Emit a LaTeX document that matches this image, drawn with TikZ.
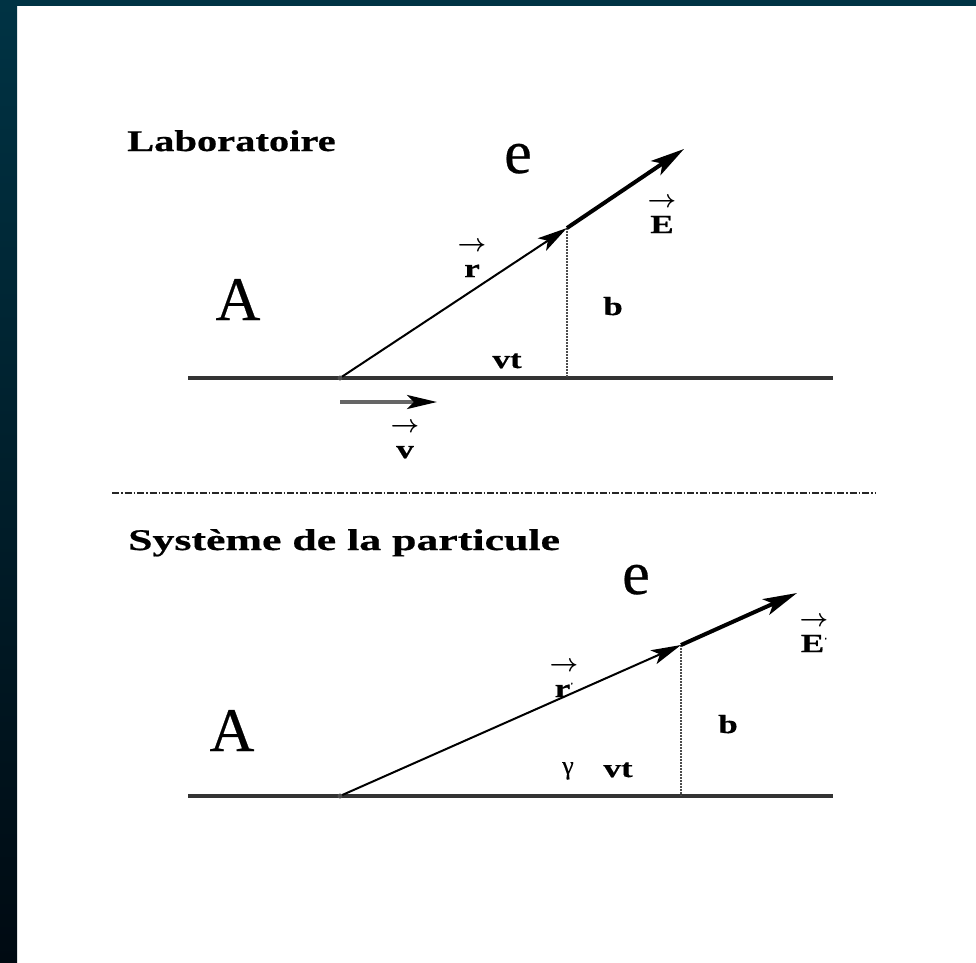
\documentclass[tikz,border=0pt]{standalone}
\usepackage{fontspec}
\usepackage{amsmath}
\setmainfont{Liberation Serif}
\newfontfamily\lbl[FakeStretch=1.35,FakeBold=0.6]{Liberation Serif}
\newfontfamily\lblw[FakeStretch=1.46,FakeBold=0.6]{Liberation Serif}
\newfontfamily\bigf[FakeBold=0.4]{Liberation Serif}
\usetikzlibrary{arrows.meta}
\definecolor{bgdark}{HTML}{003344}
\definecolor{bgblack}{HTML}{000A12}
\definecolor{axis}{HTML}{333333}
\newcommand{\vlab}[1]{$\overset{\textstyle\boldsymbol{\rightarrow}}{\rule{0pt}{21pt}\mbox{#1}}$}
\newcommand{\tprime}{{\fontsize{8}{8}\selectfont\raisebox{9pt}{'}}}
\tikzset{
 axisline/.style={draw=axis, line width=3.2pt},
 rvec/.style={draw=black, line width=2pt, -{Stealth[length=30pt,width=15pt,inset=7pt]}},
 evec/.style={draw=black, line width=4pt, -{Stealth[length=34pt,width=17pt,inset=8pt]}},
 vvec/.style={draw=black!60, line width=3.5pt, -{Stealth[length=30pt,width=14pt,inset=7pt,black]}},
 perp/.style={draw=black!70, line width=1.4pt, dash pattern=on 1.5pt off 1.5pt},
 sep/.style={draw=black!85, line width=1.6pt, dash pattern=on 7pt off 2pt on 1.5pt off 2pt},
 title/.style={inner sep=0, anchor=base west, font=\lbl\bfseries\fontsize{30}{34}\selectfont},
 titlew/.style={inner sep=0, anchor=base west, font=\lblw\bfseries\fontsize{30}{34}\selectfont},
 lab/.style={inner sep=0, anchor=base, font=\lbl\bfseries\fontsize{26}{30}\selectfont},
 big/.style={inner sep=0, anchor=base, font=\bigf\fontsize{62}{66}\selectfont},
 gam/.style={inner sep=0, anchor=base, font=\bigf\fontsize{26}{30}\selectfont},
}
\begin{document}
\begin{tikzpicture}[x=1pt,y=-1pt]
\useasboundingbox (0,0) rectangle (976,962);
\fill[white] (0,0) rectangle (976,962);
\shade[top color=bgdark,bottom color=bgblack] (0,0) rectangle (17,962);
\fill[bgdark] (0,0) rectangle (976,6);

% ---------- Laboratoire ----------
\node[title] (t1) at (127,151) {Laboratoire};
\coordinate (L1a) at (188,378);
\coordinate (L1b) at (833,378);
\coordinate (O1) at (340,378);
\coordinate (P1) at (567,228);
\coordinate (E1) at (684,149);
\coordinate (F1) at (567,378);
\coordinate (V1a) at (340,402);
\coordinate (V1b) at (437,402);
\draw[axisline] (L1a) -- (L1b);
\draw[perp] (P1) -- (F1);
\draw[rvec] (O1) -- (P1);
\draw[evec] (P1) -- (E1);
\draw[vvec] (V1a) -- (V1b);
\fill[black!70] (O1) circle (2.5pt);
\node[big] (e1) at (518,173) {e};
\node[big] (A1) at (238,320) {A};
\node[lab] (r1) at (472,277) {\vlab{r}};
\node[lab] (E1l) at (662,233) {\vlab{E}};
\node[lab] (b1) at (613,315) {b};
\node[lab] (vt1) at (507,368) {vt};
\node[lab] (v1) at (405,458) {\vlab{v}};

% ---------- separator ----------
\coordinate (S1) at (112,493);
\coordinate (S2) at (875,493);
\draw[sep] (S1) -- (S2);

% ---------- Systeme de la particule ----------
\node[titlew] (t2) at (128,550) {Système de la particule};
\coordinate (L2a) at (188,796);
\coordinate (L2b) at (833,796);
\coordinate (O2) at (340,796);
\coordinate (P2) at (681,645);
\coordinate (E2) at (797,593);
\coordinate (F2) at (681,796);
\draw[axisline] (L2a) -- (L2b);
\draw[perp] (P2) -- (F2);
\draw[rvec] (O2) -- (P2);
\draw[evec] (P2) -- (E2);
\fill[black!70] (O2) circle (2.5pt);
\node[big] (e2) at (636,594) {e};
\node[big] (A2) at (232,751) {A};
\node[lab] (r2) at (564,697) {\vlab{r\tprime}};
\node[lab] (E2l) at (814,652) {\vlab{E\tprime}};
\node[lab] (b2) at (728,733) {b};
\node[gam] (g2) at (568,774) {γ};
\node[lab] (vt2) at (618,777) {vt};
\end{tikzpicture}
\end{document}
